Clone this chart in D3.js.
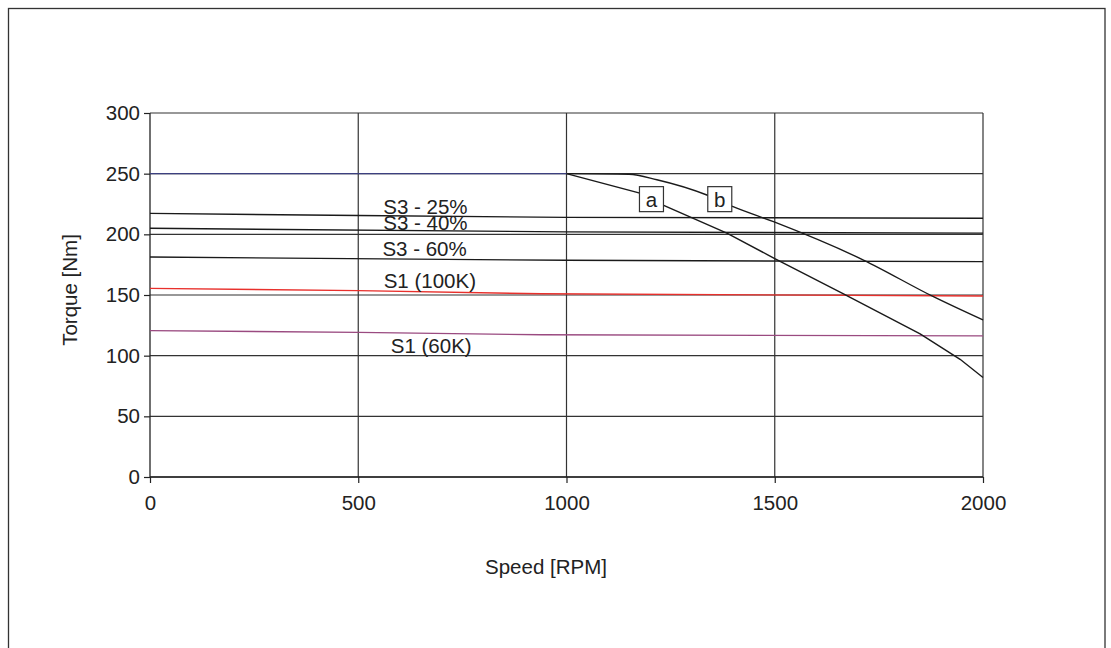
<!DOCTYPE html>
<html>
<head>
<meta charset="utf-8">
<script src="https://cdn.jsdelivr.net/npm/d3@7"></script>
<style>
  html, body { margin: 0; padding: 0; background: #fff; }
  svg { display: block; font-family: "Liberation Sans", Arial, Helvetica, sans-serif; }
</style>
</head>
<body>
<svg id="chart" width="1111" height="648"></svg>
<script>
// ---- data (speed in RPM, torque in Nm) ----
const xTicks = [0, 500, 1000, 1500, 2000];
const yTicks = [0, 50, 100, 150, 200, 250, 300];

const peakSpeed  = [0, 1000];
const peakTorque = [250, 250];

const curveASpeed  = [1000, 1176, 1232, 1385, 1500, 1665, 1849, 1945, 2000];
const curveATorque = [250, 234, 224, 201, 180, 151, 118, 97, 82];

const curveBSpeed  = [1000, 1150, 1217, 1337, 1400, 1497, 1713, 1881, 2000];
const curveBTorque = [250, 249.5, 245, 232.4, 222.8, 210.4, 178.8, 148.6, 129.4];

const s3_25Speed  = [0, 500, 1000, 2000];
const s3_25Torque = [217.3, 215.5, 214, 213.2];

const s3_40Speed  = [0, 1000, 2000];
const s3_40Torque = [205, 202, 201];

const s3_60Speed  = [0, 1000, 2000];
const s3_60Torque = [181.3, 178.6, 177.5];

const s1_100Speed  = [0, 500, 940, 2000];
const s1_100Torque = [155.5, 153.6, 151, 149.2];

const s1_60Speed  = [0, 500, 940, 2000];
const s1_60Torque = [120.6, 119.2, 117.2, 116.3];

const seriesLabels = ["S3 - 25%", "S3 - 40%", "S3 - 60%", "S1 (100K)", "S1 (60K)"];
const labelSpeed   = [560, 560, 558, 561, 578];
const labelTorque  = [217, 203.5, 182.5, 155.5, 102];

const boxLabels = ["a", "b"];
const boxSpeed  = [1204, 1368];
const boxTorque = [229, 229];

const xTitle = "Speed [RPM]";
const yTitle = "Torque [Nm]";

// ---- layout ----
const svg = d3.select("#chart");
const W = 1111, H = 648;
const x = d3.scaleLinear().domain([0, 2000]).range([150, 983]);
const y = d3.scaleLinear().domain([0, 300]).range([477, 113]);
const FONT = 20.5;
const ink = "#222";

svg.append("rect").attr("width", W).attr("height", H).attr("fill", "#fff");

// outer frame
svg.append("rect")
  .attr("x", 8.5).attr("y", 8.5)
  .attr("width", 1096.5).attr("height", 700)
  .attr("fill", "none").attr("stroke", "#333").attr("stroke-width", 1.3);

// grid
const grid = svg.append("g");
grid.selectAll("line.h").data(yTicks).join("line")
  .attr("x1", x(0)).attr("x2", x(2000))
  .attr("y1", d => y(d)).attr("y2", d => y(d))
  .attr("stroke", "#333").attr("stroke-width", 1.2);
grid.selectAll("line.v").data(xTicks.slice(1)).join("line")
  .attr("x1", d => x(d)).attr("x2", d => x(d))
  .attr("y1", y(300)).attr("y2", y(0))
  .attr("stroke", "#333").attr("stroke-width", 1.2);

// axes
const xAxis = svg.append("g")
  .attr("transform", `translate(0,${y(0)})`)
  .call(d3.axisBottom(x).tickValues(xTicks).tickSize(6).tickPadding(12).tickFormat(d3.format("d")));
const yAxis = svg.append("g")
  .attr("transform", `translate(${x(0)},0)`)
  .call(d3.axisLeft(y).tickValues(yTicks).tickSize(6).tickPadding(4).tickFormat(d3.format("d")));
[xAxis, yAxis].forEach(a => {
  a.select(".domain").attr("stroke", ink).attr("stroke-width", 1.3);
  a.selectAll(".tick line").attr("stroke", ink).attr("stroke-width", 1.2);
  a.selectAll(".tick text").attr("fill", ink).attr("font-size", FONT)
    .attr("font-family", "Liberation Sans, Arial, sans-serif");
});
xAxis.select(".domain").attr("d", `M${x(0)},0H${x(2000)}`);
yAxis.select(".domain").attr("d", `M0,${y(300)}V${y(0)}`);

// series
const line = d3.line().x(d => x(d[0])).y(d => y(d[1]));
const smooth = d3.line().x(d => x(d[0])).y(d => y(d[1])).curve(d3.curveMonotoneX);
const zip = (a, b) => a.map((v, i) => [v, b[i]]);
const series = [
  { s: s3_25Speed,  t: s3_25Torque,  c: "#1a1a1a", f: line },
  { s: s3_40Speed,  t: s3_40Torque,  c: "#1a1a1a", f: line },
  { s: s3_60Speed,  t: s3_60Torque,  c: "#1a1a1a", f: line },
  { s: s1_60Speed,  t: s1_60Torque,  c: "#9a4a80", f: line },
  { s: s1_100Speed, t: s1_100Torque, c: "#e8302c", f: line },
  { s: curveASpeed, t: curveATorque, c: "#1a1a1a", f: line },
  { s: curveBSpeed, t: curveBTorque, c: "#1a1a1a", f: smooth },
  { s: peakSpeed,   t: peakTorque,   c: "#3c4080", f: line }
];
svg.append("g").selectAll("path").data(series).join("path")
  .attr("d", d => d.f(zip(d.s, d.t)))
  .attr("fill", "none").attr("stroke", d => d.c).attr("stroke-width", 1.4);

// series labels
svg.append("g").selectAll("text").data(seriesLabels).join("text")
  .attr("x", (d, i) => x(labelSpeed[i]))
  .attr("y", (d, i) => y(labelTorque[i]))
  .attr("font-size", FONT).attr("fill", ink)
  .text(d => d);

// boxed curve labels
const boxes = svg.append("g").selectAll("g").data(boxLabels).join("g")
  .attr("transform", (d, i) => `translate(${x(boxSpeed[i])},${y(boxTorque[i])})`);
boxes.append("rect")
  .attr("x", -12).attr("y", -12.5).attr("width", 24).attr("height", 25)
  .attr("fill", "#fff").attr("stroke", "#333").attr("stroke-width", 1.2);
boxes.append("text")
  .attr("text-anchor", "middle").attr("y", 7.5)
  .attr("font-size", FONT).attr("fill", ink)
  .text(d => d);

// axis titles
svg.append("text")
  .attr("x", 546).attr("y", 574)
  .attr("text-anchor", "middle").attr("font-size", FONT).attr("fill", ink)
  .text(xTitle);
svg.append("text")
  .attr("transform", "translate(77,290) rotate(-90)")
  .attr("text-anchor", "middle").attr("font-size", FONT).attr("fill", ink)
  .text(yTitle);
</script>
</body>
</html>
